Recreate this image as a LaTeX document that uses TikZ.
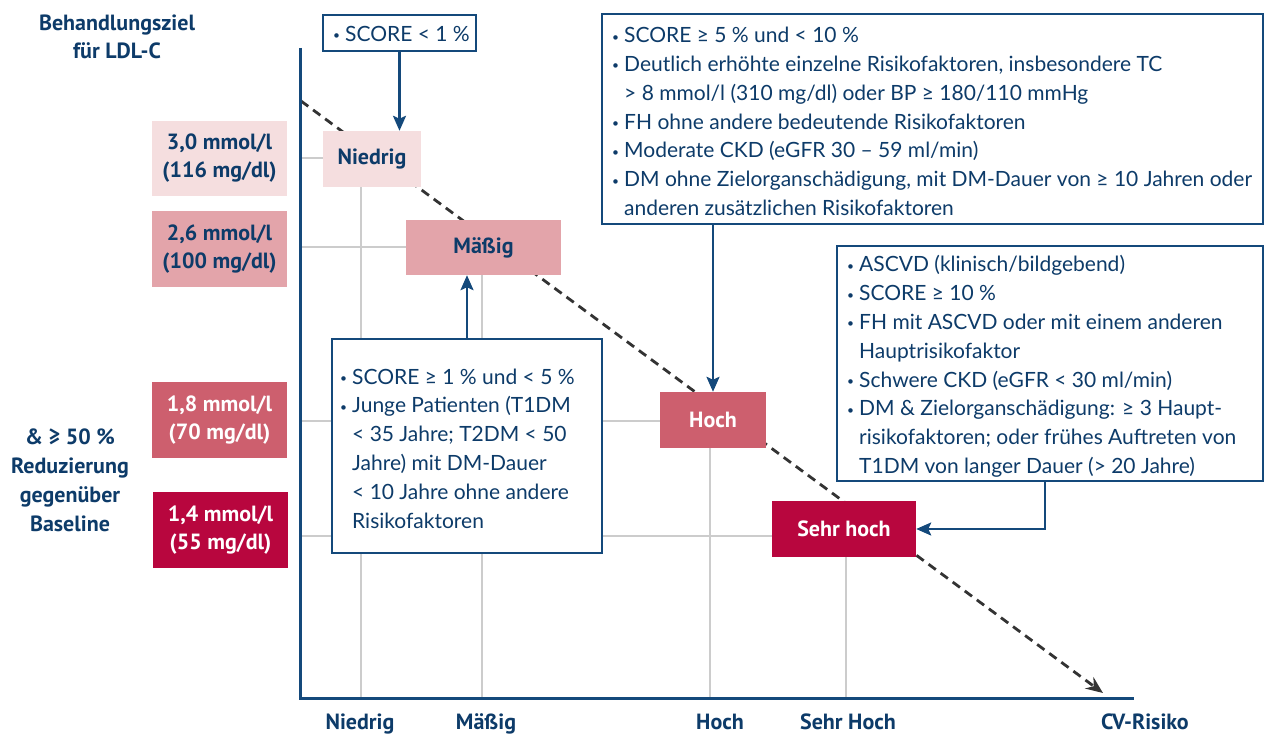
\documentclass[tikz,border=0pt]{standalone}
\usepackage{fontspec}
\setmainfont{Lato}
\newfontfamily\cond{PT Sans}
\usetikzlibrary{arrows.meta}
\definecolor{navy}{HTML}{0D3B69}
\definecolor{lineblue}{HTML}{14497B}
\definecolor{pinkA}{HTML}{F5DEDF}
\definecolor{pinkB}{HTML}{E3A4AA}
\definecolor{pinkC}{HTML}{CD5F6E}
\definecolor{redD}{HTML}{B8063E}
\definecolor{gridgray}{HTML}{CCCCCC}
\definecolor{dashgray}{HTML}{333333}
\newcommand{\bul}{\makebox[12pt][l]{\raisebox{1.6pt}{\fontsize{12}{12}\selectfont •}}}
\newcommand{\ind}{\hspace*{12pt}}
\begin{document}
\begin{tikzpicture}[x=1pt,y=-1pt,
  gridl/.style={draw=gridgray,line width=1.5pt},
  axisl/.style={draw=lineblue,line width=3pt},
  trend/.style={draw=dashgray,line width=2.8pt,dash pattern=on 9pt off 6pt,-{Stealth[length=17pt,width=14pt]}},
  arr/.style={draw=lineblue,line width=2.5pt,-{Stealth[length=15pt,width=13pt,inset=3pt]}},
  lvl/.style={rectangle,inner sep=0pt,align=center,font=\cond\bfseries\fontsize{22}{28}\selectfont},
  critbox/.style={rectangle,draw=lineblue,line width=2pt,fill=white,inner sep=0pt},
  crittext/.style={anchor=west,inner sep=0pt,align=left,text=navy,font=\fontsize{21}{28.8}\selectfont},
  lab/.style={align=center,text=navy,font=\cond\bfseries\fontsize{22}{28}\selectfont}
]
\useasboundingbox (0,0) rectangle (1270,735);
% grid
\draw[gridl] (300,158) -- (361,158) -- (361,698);
\draw[gridl] (300,247) -- (482,247) -- (482,698);
\draw[gridl] (300,421) -- (710,421) -- (710,698);
\draw[gridl] (300,536) -- (846,536) -- (846,698);
% trend line
\coordinate (ts) at (301,101);
\coordinate (te) at (1103,693);
\draw[trend] (ts) -- (te);
% level boxes
\node[lvl,fill=pinkA,text=navy,minimum width=98pt,minimum height=56pt] (nied) at (372,159) {Niedrig};
\node[lvl,fill=pinkB,text=navy,minimum width=155pt,minimum height=55pt] (mas) at (483.5,247.5) {Mäßig};
\node[lvl,fill=pinkC,text=white,minimum width=106pt,minimum height=56pt] (hoch) at (713,420) {Hoch};
\node[lvl,fill=redD,text=white,minimum width=144pt,minimum height=56pt] (sehr) at (844,529) {Sehr hoch};
% target boxes
\node[lvl,fill=pinkA,text=navy,minimum width=135pt,minimum height=75pt] (l30) at (219.5,158.5) {3,0 mmol/l\\(116 mg/dl)};
\node[lvl,fill=pinkB,text=navy,minimum width=135pt,minimum height=76pt] (l26) at (219.5,249) {2,6 mmol/l\\(100 mg/dl)};
\node[lvl,fill=pinkC,text=white,minimum width=135pt,minimum height=76pt] (l18) at (219.5,420) {1,8 mmol/l\\(70 mg/dl)};
\node[lvl,fill=redD,text=white,minimum width=135pt,minimum height=76pt] (l14) at (220.5,530) {1,4 mmol/l\\(55 mg/dl)};
% criteria boxes
\node[critbox,minimum width=153pt,minimum height=36pt] (sc1) at (399.5,33) {};
\node[crittext] (sc1t) at ([xshift=11pt,yshift=-1pt]sc1.west) {\bul SCORE < 1 \%};
\node[critbox,minimum width=270pt,minimum height=214pt] (tm) at (467,446) {};
\node[crittext] (tmt) at ([xshift=9pt,yshift=-2.5pt]tm.west) {\bul SCORE ≥ 1 \% und < 5 \%\\
\bul Junge Patienten (T1DM\\
\ind < 35 Jahre; T2DM < 50\\
\ind Jahre) mit DM-Dauer\\
\ind < 10 Jahre ohne andere\\
\ind Risikofaktoren};
\node[critbox,minimum width=661pt,minimum height=210pt] (th) at (932.5,119) {};
\node[crittext] (tht) at ([xshift=11pt,yshift=-2.5pt]th.west) {\bul SCORE ≥ 5 \% und < 10 \%\\
\bul Deutlich erhöhte einzelne Risikofaktoren, insbesondere TC\\
\ind > 8 mmol/l (310 mg/dl) oder BP ≥ 180/110 mmHg\\
\bul FH ohne andere bedeutende Risikofaktoren\\
\bul Moderate CKD (eGFR 30 – 59 ml/min)\\
\bul DM ohne Zielorganschädigung, mit DM-Dauer von ≥ 10 Jahren oder\\
\ind anderen zusätzlichen Risikofaktoren};
\node[critbox,minimum width=426pt,minimum height=235pt] (tsh) at (1050,363.5) {};
\node[crittext] (tsht) at ([xshift=11pt,yshift=-3pt]tsh.west) {\bul ASCVD (klinisch/bildgebend)\\
\bul SCORE ≥ 10 \%\\
\bul FH mit ASCVD oder mit einem anderen\\
\ind Hauptrisikofaktor\\
\bul Schwere CKD (eGFR < 30 ml/min)\\
\bul DM \& Zielorganschädigung: ≥ 3 Haupt-\\
\ind risikofaktoren; oder frühes Auftreten von\\
\ind T1DM von langer Dauer (> 20 Jahre)};
% arrows
\draw[arr] (sc1.south) -- (sc1.south |- nied.north);
\draw[arr] (tm.north) -- (tm.north |- mas.south);
\draw[arr] (hoch.north |- th.south) -- (hoch.north);
\draw[arr] ([xshift=-5pt]tsh.south) |- (sehr.east);
% axes
\draw[axisl] (300,48) -- (300,698) -- (1134,698);
% labels
\node[lab] (ytitle) at (117,37) {Behandlungsziel\\für LDL-C};
\node[lab,font=\cond\bfseries\fontsize{22}{29}\selectfont] (red) at (70,480) {\& ≥ 50 \%\\Reduzierung\\gegenüber\\Baseline};
\node[lab,anchor=base] (xn) at (360,729) {Niedrig};
\node[lab,anchor=base] (xm) at (486,729) {Mäßig};
\node[lab,anchor=base] (xh) at (720,729) {Hoch};
\node[lab,anchor=base] (xs) at (848,729) {Sehr Hoch};
\node[lab,anchor=base] (xcv) at (1145,729) {CV-Risiko};
\end{tikzpicture}
\end{document}
